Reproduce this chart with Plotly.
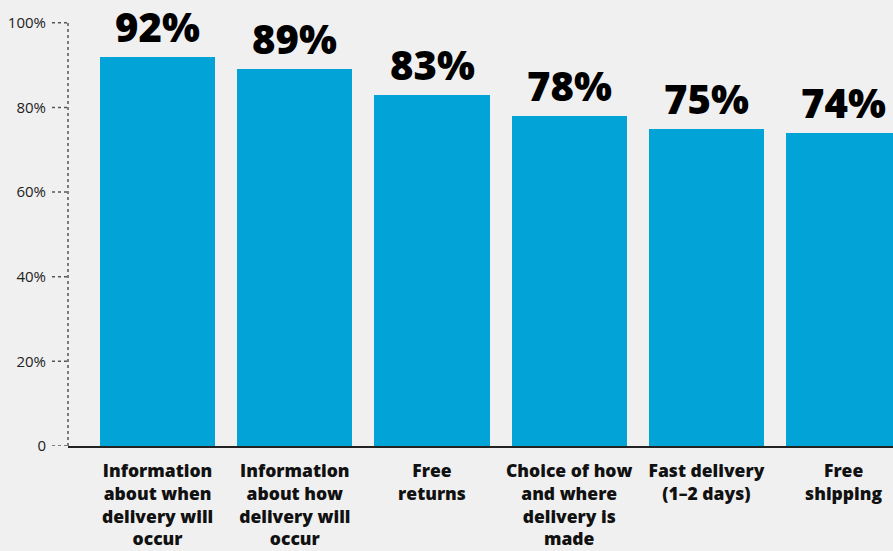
import plotly.graph_objects as go

# Share of respondents rating each delivery option as important
categories = [
    "Information<br>about when<br>delivery will<br>occur",
    "Information<br>about how<br>delivery will<br>occur",
    "Free<br>returns",
    "Choice of how<br>and where<br>delivery is<br>made",
    "Fast delivery<br>(1–2 days)",
    "Free<br>shipping",
]
values = [92, 89, 83, 78, 75, 74]
value_labels = ["92%", "89%", "83%", "78%", "75%", "74%"]

tick_vals = [0, 20, 40, 60, 80, 100]
tick_text = ["0", "20%", "40%", "60%", "80%", "100%"]

BAR_COLOR = "#02a3d6"
BG = "#f0f0f0"
INK = "#111111"

fig = go.Figure(
    go.Bar(
        x=list(range(len(categories))),
        y=values,
        marker=dict(color=BAR_COLOR, line=dict(width=0)),
        width=0.84,
        hoverinfo="skip",
    )
)

# Big bold value labels above each bar
for i, (v, t) in enumerate(zip(values, value_labels)):
    fig.add_annotation(
        x=i, y=v, text=t, showarrow=False,
        xanchor="center", yanchor="bottom", yshift=2, borderpad=0,
        font=dict(family="Open Sans", size=40, color="#000000", weight=800),
    )

# Dotted vertical axis line and dotted tick marks
fig.add_shape(
    type="line", xref="paper", yref="y", x0=0, x1=0, y0=0, y1=100,
    line=dict(color="#555555", width=1.5, dash="dot"), layer="above",
)
for tv in tick_vals:
    fig.add_shape(
        type="line", xref="paper", yref="y", xsizemode="pixel", xanchor=0,
        x0=-16, x1=0, y0=tv, y1=tv,
        line=dict(color="#555555", width=1.5, dash="dot"), layer="above",
    )

fig.update_layout(
    width=893, height=551,
    margin=dict(l=68, r=0, t=0, b=105, autoexpand=False),
    paper_bgcolor=BG, plot_bgcolor=BG,
    showlegend=False,
    bargap=0,
    xaxis=dict(
        range=[-0.653, 5.36],
        tickmode="array",
        tickvals=list(range(len(categories))),
        ticktext=categories,
        tickangle=0,
        automargin=False,
        showgrid=False, zeroline=False,
        showline=True, linecolor="#222222", linewidth=2,
        ticks="", ticklabelstandoff=8,
        tickfont=dict(family="Open Sans", size=17.5, color=INK, weight=800),
    ),
    yaxis=dict(
        range=[0, 105.4],
        automargin=False,
        tickmode="array", tickvals=tick_vals, ticktext=tick_text,
        showgrid=False, zeroline=False, showline=False,
        ticks="", ticklabelstandoff=21,
        tickfont=dict(family="Open Sans", size=15, color="#222222"),
    ),
)

fig.write_html("out.html")
